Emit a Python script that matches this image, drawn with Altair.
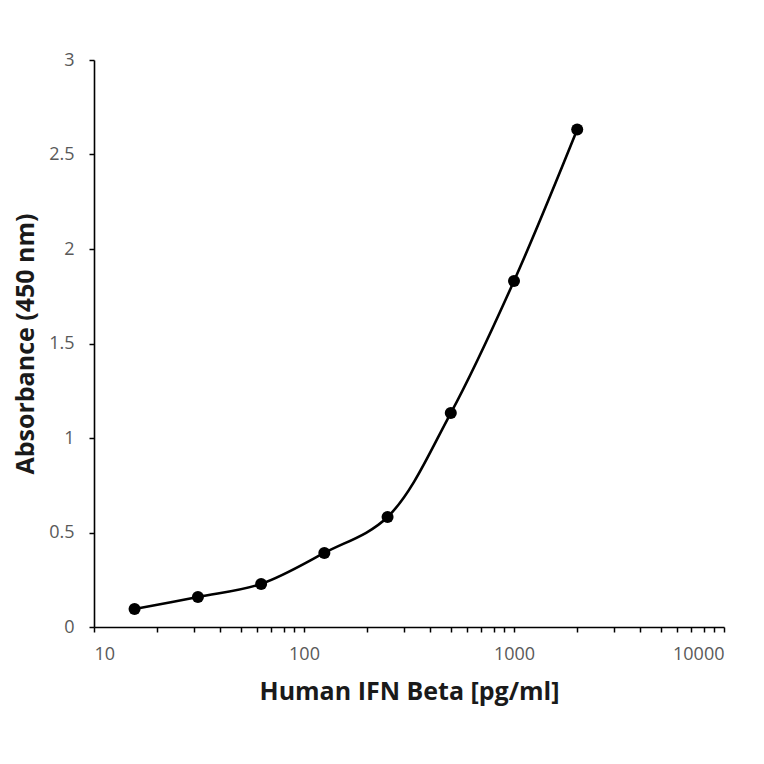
import pandas as pd
import altair as alt

# standard curve values
conc = [15.6, 31.25, 62.5, 125, 250, 500, 1000, 2000]
absorbance = [0.095, 0.159, 0.228, 0.392, 0.582, 1.132, 1.831, 2.632]

x_ticks = [10, 20, 30, 40, 50, 60, 70, 80, 90,
           100, 200, 300, 400, 500, 600, 700, 800, 900,
           1000, 2000, 3000, 4000, 5000, 6000, 7000, 8000, 9000, 10000]
y_ticks = [0, 0.5, 1, 1.5, 2, 2.5, 3]

df = pd.DataFrame({'conc': conc, 'abs': absorbance})

font = 'Open Sans'

x = alt.X('conc:Q',
          scale=alt.Scale(type='log', domain=[10, 10000]),
          axis=alt.Axis(values=x_ticks, grid=False,
                        labelExpr="indexof([10, 100, 1000, 10000], datum.value) >= 0 ? format(datum.value, 'd') : ''",
                        labelPadding=13,
                        title='Human IFN Beta [pg/ml]', titlePadding=16))
y = alt.Y('abs:Q',
          scale=alt.Scale(domain=[0, 3]),
          axis=alt.Axis(values=y_ticks, grid=False, format='~g',
                        labelPadding=15,
                        title='Absorbance (450 nm)', titlePadding=10))

line = alt.Chart(df).mark_line(color='black', strokeWidth=2.6, interpolate='catmull-rom').encode(x=x, y=y)
points = alt.Chart(df).mark_circle(color='black', size=145, opacity=1).encode(x=x, y=y)

chart = (line + points).properties(
    width=630, height=567,
    autosize=alt.AutoSizeParams(type='none'),
    padding={'left': 86, 'top': 52, 'right': 20, 'bottom': 80},
).configure_view(
    stroke=None
).configure_axis(
    domainColor='black', domainWidth=1.6,
    tickColor='black', tickWidth=1.5, tickSize=5,
    labelFont=font, labelFontSize=18, labelColor='#595959',
    titleFont=font, titleFontSize=25, titleFontWeight='bold', titleColor='#1a1a1a',
)

chart.save("out.html", embed_options={"renderer": "svg", "actions": False})
